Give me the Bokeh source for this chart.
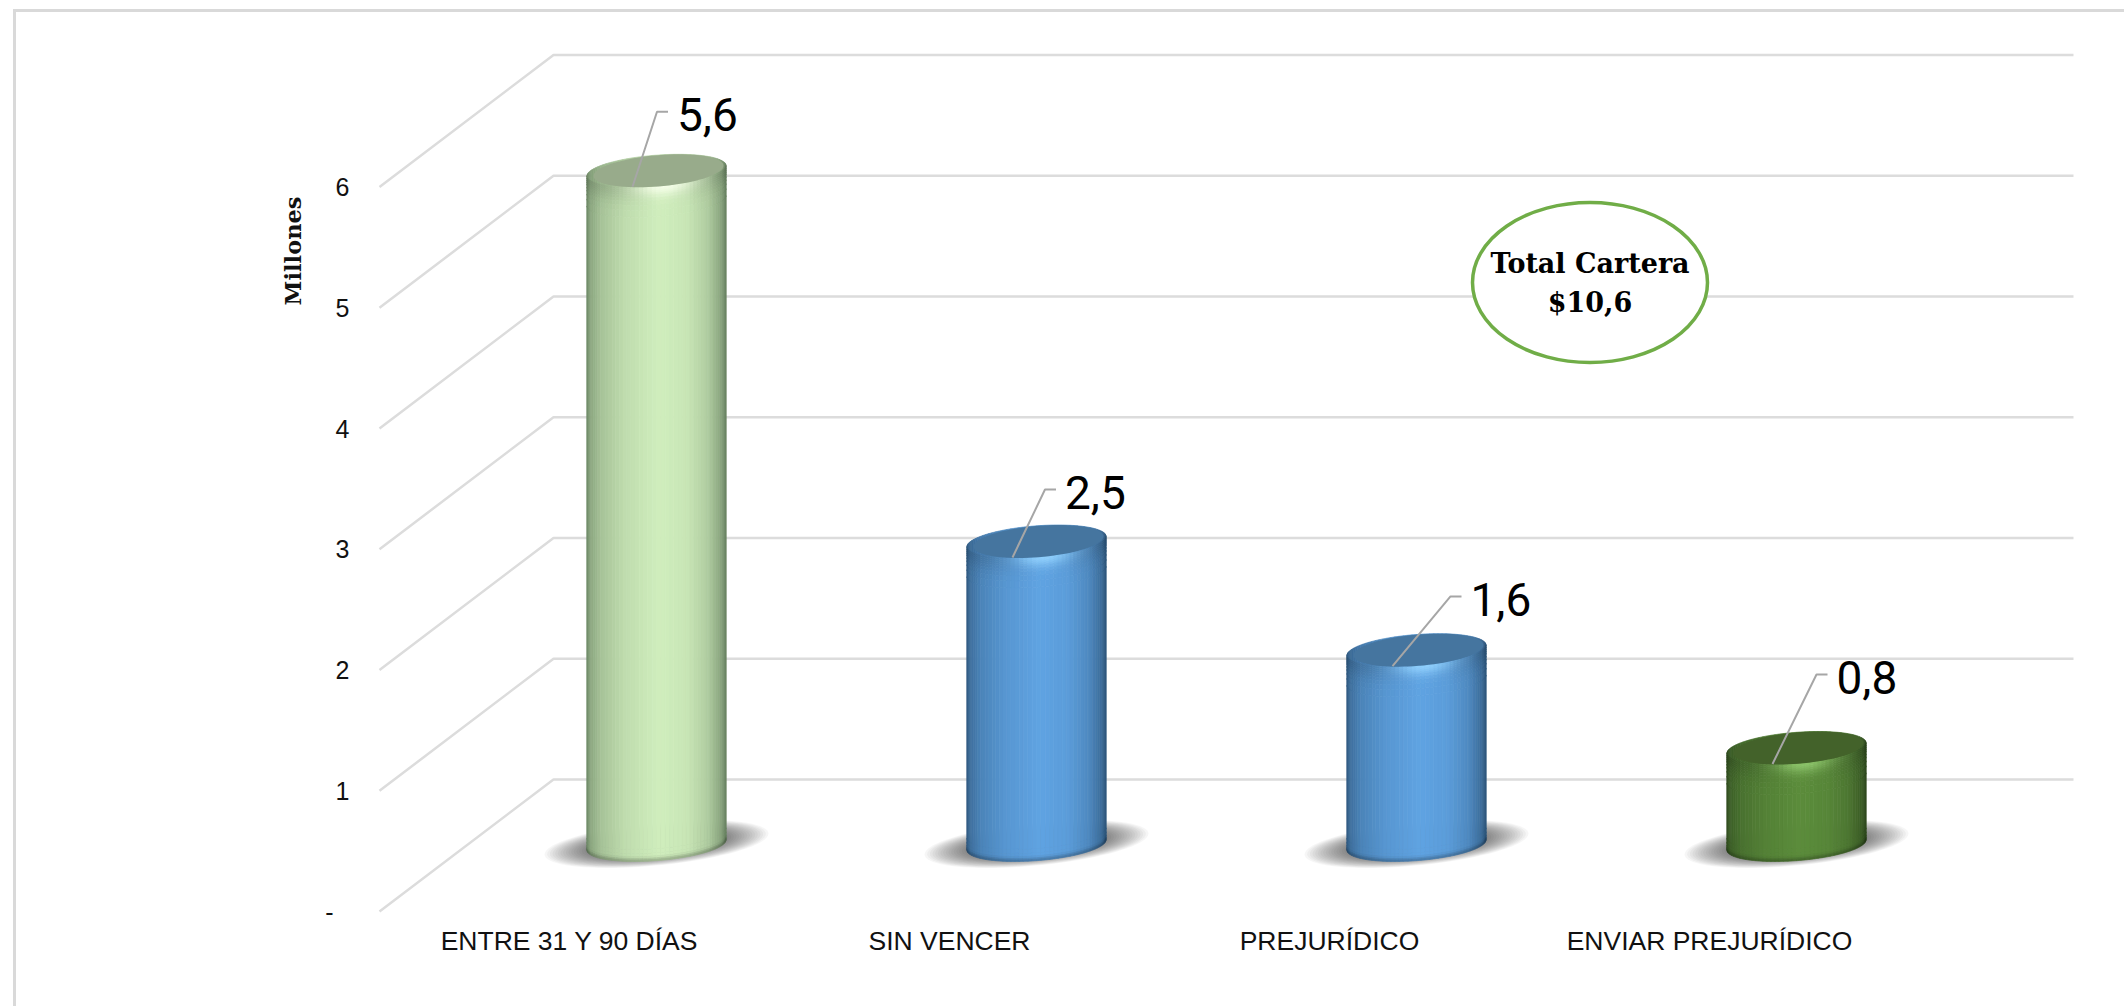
import numpy as np
from bokeh.plotting import figure
from bokeh.embed import file_html
from bokeh.resources import INLINE
from bokeh.core.properties import value
from bokeh.models import Range1d, FixedTicker, LinearAxis, InlineStyleSheet, Title

# ---- data
categories = ["ENTRE 31 Y 90 DÍAS", "SIN VENCER", "PREJURÍDICO", "ENVIAR PREJURÍDICO"]
values = [5.6, 2.53, 1.63, 0.82]
value_labels = ["5,6", "2,5", "1,6", "0,8"]
y_ticks = [1, 2, 3, 4, 5, 6]
y_tick_labels = ["1", "2", "3", "4", "5", "6"]
zero_label = "-"
axis_title = "Millones"
total_lines = ["Total Cartera", "$10,6"]

# ---- style tables (body, edge, cap, highlight)
palette = [
    ("#d0eebd", "#66805f", "#98ab8b", "#f8ffec"),
    ("#5fa3e2", "#2c5479", "#45759f", "#93d3ff"),
    ("#5fa3e2", "#2c5479", "#45759f", "#93d3ff"),
    ("#5b8c3b", "#2d481d", "#43622a", "#90c96e"),
]

# ---- scene geometry, in px per data unit
PX_X, PX_Y = 380.0, 120.75
ORIGIN_X, ORIGIN_Y = 379.0, 911.0         # image px of (0, 0)
FRAME_L, FRAME_R, FRAME_T, FRAME_B = 370.0, 2080.0, 14.0, 914.0
WIDTH, HEIGHT = 2124, 1006
DEPTH_X, DEPTH_Y = 174.0 / PX_X, 132.0 / PX_Y
RIGHT_END = (2073.0 - ORIGIN_X) / PX_X

R, H = 69.5, 16.5
PHI = np.arctan2(21.7, 66.0)


def hex2rgb(h):
    return np.array([int(h[i:i + 2], 16) for i in (1, 3, 5)], float)


def rgb2hex(c):
    c = np.clip(np.round(c), 0, 255).astype(int)
    return "#%02x%02x%02x" % tuple(c)


def arc_low(u):
    """px upward offset of the lower arc of a sheared ellipse, for u in [-1, 1]"""
    return H * np.sin(PHI - np.arccos(np.clip(u, -1, 1)))


def arc_up(u):
    return H * np.sin(PHI + np.arccos(np.clip(u, -1, 1)))


def ellipse_pts(cx, cy, rx, hy, phi, n=80):
    th = np.linspace(0, 2 * np.pi, n, endpoint=False)
    return (cx + rx * np.cos(th) / PX_X).tolist(), (cy + hy * np.sin(th + phi) / PX_Y).tolist()


PROFILE_U = [-1.0, -0.95, -0.8, -0.45, 0.05, 0.45, 0.75, 0.93, 1.0]
PROFILE_T = [0.05, 0.34, 0.60, 0.84, 1.0, 0.92, 0.68, 0.34, 0.04]
U_EDGES = np.sin(np.linspace(-np.pi / 2, np.pi / 2, 51))
TOP_D = [0, 2, 4, 6, 8, 11, 14, 18, 23, 30]
BOT_D = [12, 8, 5, 3, 1.5, 0]

frame_css = InlineStyleSheet(css=""":host::after {
  content: ""; position: absolute; left: 13px; top: 9px; right: 0; bottom: 0;
  border-left: 3px solid #d9d9d9; border-top: 3px solid #d9d9d9;
  pointer-events: none; z-index: 5;
}""")

p = figure(width=WIDTH, height=HEIGHT, output_backend="svg", toolbar_location=None,
           x_range=Range1d((FRAME_L - ORIGIN_X) / PX_X, (FRAME_R - ORIGIN_X) / PX_X),
           y_range=Range1d((ORIGIN_Y - FRAME_B) / PX_Y, (ORIGIN_Y - FRAME_T) / PX_Y),
           min_border_left=int(FRAME_L), min_border_right=int(WIDTH - FRAME_R),
           min_border_top=int(FRAME_T), min_border_bottom=int(HEIGHT - FRAME_B),
           stylesheets=[frame_css])
p.outline_line_color = None
p.grid.visible = False
p.background_fill_color = "white"
p.border_fill_color = "white"

# axes
p.yaxis.ticker = FixedTicker(ticks=y_ticks)
p.yaxis.major_label_overrides = {t: s for t, s in zip(y_ticks, y_tick_labels)}
p.xaxis.ticker = FixedTicker(ticks=[i + 0.5 for i in range(len(categories))])
p.xaxis.major_label_overrides = {i + 0.5: c for i, c in enumerate(categories)}
zero_axis = LinearAxis(ticker=FixedTicker(ticks=[0]), major_label_overrides={0: zero_label},
                       major_label_standoff=-7)
p.add_layout(zero_axis, "left")
p.add_layout(Title(text=axis_title, align="right", offset=182, standoff=34,
                   text_font="DejaVu Serif", text_font_style="bold", text_font_size="22.5px",
                   text_color="#111111"), "left")
for ax in (p.xaxis[0], p.yaxis[0], zero_axis):
    ax.axis_line_color = None
    ax.major_tick_line_color = None
    ax.minor_tick_line_color = None
    ax.major_label_text_font = "Liberation Sans"
    ax.major_label_text_color = "#111111"
p.yaxis[0].major_label_text_font_size = "25px"
zero_axis.major_label_text_font_size = "25px"
p.xaxis[0].major_label_text_font_size = "26.5px"
p.yaxis[0].major_label_standoff = 15
p.xaxis[0].major_label_standoff = 5

# perspective gridlines
grid_x, grid_y = [], []
for t in [0] + y_ticks:
    grid_x.append([0, DEPTH_X, RIGHT_END])
    grid_y.append([t, t + DEPTH_Y, t + DEPTH_Y])
p.multi_line(grid_x, grid_y, line_color="#dcdcdc", line_width=2.5)

# shadows
n_cat = len(categories)
cxs = [i + 0.5 + DEPTH_X / 2 for i in range(n_cat)]
y0 = DEPTH_Y / 2 - 1.5 / PX_Y            # value zero at mid depth
for s in np.linspace(1.0, 0.62, 17):
    xs, ys = [], []
    for cx in cxs:
        a, b = ellipse_pts(cx, DEPTH_Y / 2 + 1.5 / PX_Y, 112 * s, 24 * s, 0.45)
        xs.append(a)
        ys.append(b)
    p.patches(xs, ys, fill_color="black", fill_alpha=0.036, line_color=None)

# cylinders
cell_x, cell_y, cell_c = [], [], []
for cx, v, (body, edge, cap, hi) in zip(cxs, values, palette):
    body, edge, hi = hex2rgb(body), hex2rgb(edge), hex2rgb(hi)
    top = y0 + v
    base = DEPTH_Y / 2 + 0.5 / PX_Y
    for ul, ur in zip(U_EDGES[:-1], U_EDGES[1:]):
        um = (ul + ur) / 2
        xl, xr = cx + ul * R / PX_X, cx + ur * R / PX_X
        t = np.interp(um, PROFILE_U, PROFILE_T)
        side = edge + t * (body - edge)
        tl_low = top + arc_low(ul) / PX_Y
        tr_low = top + arc_low(ur) / PX_Y
        bl = base + arc_low(ul) / PX_Y
        br = base + arc_low(ur) / PX_Y
        # shell above the rim; the cap covers most of it
        cell_x.append([xl, xr, xr, xl])
        cell_y.append([top + arc_up(ul) / PX_Y, top + arc_up(ur) / PX_Y, tr_low, tl_low])
        cell_c.append(rgb2hex(edge + 0.8 * t * (body - edge)))
        # rim band
        for d0, d1 in zip(TOP_D[:-1], TOP_D[1:]):
            dm = (d0 + d1) / 2
            glow = np.exp(-(dm / 10.0) ** 2) * np.exp(-((um - 0.12) / 0.42) ** 2) * 0.9
            dim = 0.12 * np.exp(-(dm / 14.0) ** 2) * (1 - np.exp(-((um - 0.12) / 0.42) ** 2))
            c = side * (1 - dim)
            c = c + glow * (hi - c)
            cell_x.append([xl, xr, xr, xl])
            cell_y.append([tl_low - d0 / PX_Y, tr_low - d0 / PX_Y, tr_low - d1 / PX_Y, tl_low - d1 / PX_Y])
            cell_c.append(rgb2hex(c))
        # body
        cell_x.append([xl, xr, xr, xl])
        cell_y.append([tl_low - TOP_D[-1] / PX_Y, tr_low - TOP_D[-1] / PX_Y,
                       br + BOT_D[0] / PX_Y, bl + BOT_D[0] / PX_Y])
        cell_c.append(rgb2hex(side))
        # foot band
        for d0, d1 in zip(BOT_D[:-1], BOT_D[1:]):
            dm = (d0 + d1) / 2
            c = side * (1 - 0.24 * np.exp(-(dm / 3.0) ** 2))
            cell_x.append([xl, xr, xr, xl])
            cell_y.append([bl + d0 / PX_Y, br + d0 / PX_Y, br + d1 / PX_Y, bl + d1 / PX_Y])
            cell_c.append(rgb2hex(c))
p.patches(cell_x, cell_y, fill_color=cell_c, line_color=cell_c, line_width=0.7)

# caps
cap_x, cap_y, cap_c = [], [], []
for cx, v, pal in zip(cxs, values, palette):
    a, b = ellipse_pts(cx + 2 / PX_X, y0 + v, R - 4.5, H, PHI)
    cap_x.append(a)
    cap_y.append(b)
    cap_c.append(pal[2])
p.patches(cap_x, cap_y, fill_color=cap_c, line_color=None)

# data-label leaders and texts (px offsets from the centre of each cap)
elbow_dx = [0.5, 8.5, 34, 20]
elbow_dy = [59, 52, 53.7, 73.5]
lead_x, lead_y, lab_x, lab_y = [], [], [], []
for cx, v, ex, ey in zip(cxs, values, elbow_dx, elbow_dy):
    yc = y0 + v
    lead_x.append([cx - 24 / PX_X, cx + ex / PX_X, cx + (ex + 11) / PX_X])
    lead_y.append([yc - 16 / PX_Y, yc + ey / PX_Y, yc + ey / PX_Y])
    lab_x.append(cx + (ex + 20) / PX_X)
    lab_y.append(yc + (ey - 3) / PX_Y)
p.multi_line(lead_x, lead_y, line_color="#a6a6a6", line_width=2)
p.text(lab_x, lab_y, text=value_labels, text_font=value("Roboto"), text_font_size="46px",
       text_color="#000000", text_align="left", text_baseline="middle")

# total oval
ox, oy = (1589.5 - ORIGIN_X) / PX_X, (ORIGIN_Y - 282) / PX_Y
p.ellipse([ox], [oy], width=[235], height=[160], width_units="screen", height_units="screen",
          fill_color="white", line_color="#70ad47", line_width=3.5)
p.text([ox, ox], [(ORIGIN_Y - 263) / PX_Y, (ORIGIN_Y - 302) / PX_Y], text=total_lines,
       text_font=value("DejaVu Serif"), text_font_style="bold", text_font_size="27px",
       text_color="#000000", text_align="center", text_baseline="middle")

open("out.html", "w").write(file_html(p, INLINE))
